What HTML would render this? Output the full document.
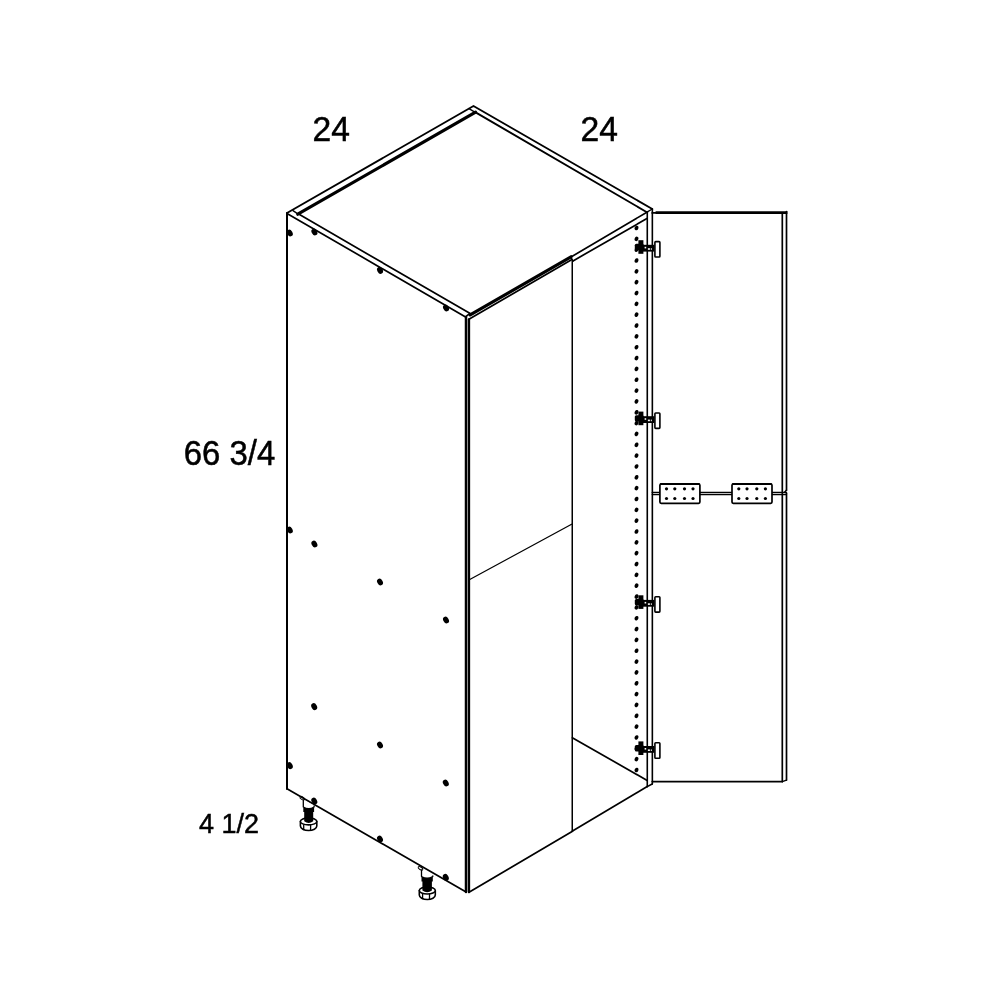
<!DOCTYPE html>
<html><head><meta charset="utf-8"><style>
html,body{margin:0;padding:0;background:#fff;}
body{width:1000px;height:1000px;position:relative;overflow:hidden;}
svg{position:absolute;left:0;top:0;will-change:transform;}
.t{position:absolute;font-family:"Liberation Sans",sans-serif;color:#000;white-space:nowrap;line-height:1;}
</style></head><body>
<svg width="1000" height="1000" viewBox="0 0 1000 1000">
<g stroke="#000" fill="none" stroke-linecap="round" stroke-linejoin="round">
<path d="M287,213 L473.5,106 L652.3,209" stroke-width="1.85" fill="none"/>
<line x1="297.8" y1="214.2" x2="475.6" y2="112.2" stroke-width="3.2"/>
<line x1="293" y1="210.6" x2="298.5" y2="214.4" stroke-width="1.4"/>
<line x1="469" y1="108.6" x2="475.6" y2="112.6" stroke-width="1.4"/>
<line x1="475.6" y1="112.4" x2="646.9" y2="212.2" stroke-width="1.85"/>
<line x1="646.9" y1="212.2" x2="652.3" y2="209" stroke-width="1.4"/>
<line x1="287" y1="213.4" x2="466.0" y2="317.2" stroke-width="1.7"/>
<line x1="299.5" y1="214.6" x2="470.2" y2="313.6" stroke-width="1.7"/>
<line x1="470.2" y1="314.9" x2="571" y2="256.8" stroke-width="3.2"/>
<line x1="571" y1="257.0" x2="646.9" y2="212.2" stroke-width="1.7"/>
<line x1="468.9" y1="319.2" x2="571.5" y2="259.7" stroke-width="1.7"/>
<line x1="573" y1="260.9" x2="646.9" y2="218.6" stroke-width="1.7"/>
<line x1="571" y1="257.3" x2="573" y2="261" stroke-width="1.5"/>
<line x1="287" y1="213" x2="287" y2="789" stroke-width="2.0"/>
<line x1="466.0" y1="317" x2="466.0" y2="892" stroke-width="2.5"/>
<line x1="468.95" y1="319.4" x2="468.95" y2="892" stroke-width="2.4"/>
<line x1="465.8" y1="316.6" x2="469.6" y2="313.6" stroke-width="1.8"/>
<line x1="572.25" y1="261" x2="572.25" y2="831" stroke-width="1.5"/>
<line x1="647.28" y1="212.2" x2="647.28" y2="786.6" stroke-width="1.6"/>
<line x1="652.35" y1="209" x2="652.35" y2="784" stroke-width="1.6"/>
<line x1="287" y1="788.7" x2="466.1" y2="892" stroke-width="1.7"/>
<line x1="469" y1="892.3" x2="572.5" y2="831.3" stroke-width="1.7"/>
<line x1="572.5" y1="831" x2="647.2" y2="786.6" stroke-width="1.7"/>
<line x1="647.2" y1="786.6" x2="652.2" y2="784" stroke-width="1.6"/>
<line x1="469.3" y1="579.8" x2="571.6" y2="524.2" stroke-width="1.25"/>
<line x1="572.3" y1="737.8" x2="647.2" y2="780.4" stroke-width="1.7"/>
<line x1="655.6" y1="212.7" x2="787.4" y2="212.7" stroke-width="2.8" stroke-linecap="butt"/>
<line x1="652.2" y1="212.9" x2="656" y2="212.9" stroke-width="1.8"/>
<line x1="782.3" y1="213.5" x2="782.3" y2="781.6" stroke-width="1.7"/>
<line x1="786.5" y1="211.5" x2="786.5" y2="490.2" stroke-width="1.7"/>
<line x1="786.4" y1="490.2" x2="784.6" y2="492.2" stroke-width="1.6"/>
<line x1="786.5" y1="493.2" x2="786.5" y2="780.1" stroke-width="1.7"/>
<line x1="652.2" y1="781.6" x2="782.3" y2="781.6" stroke-width="1.7"/>
<line x1="782.3" y1="781.6" x2="786.5" y2="780.1" stroke-width="1.4"/>
<line x1="652.2" y1="492.5" x2="786.5" y2="492.5" stroke-width="1.3"/>
<line x1="652.2" y1="494.6" x2="786.5" y2="494.6" stroke-width="1.3"/>
<rect x="659.9" y="484.0" width="40.0" height="19.3" rx="1.3" stroke-width="1.7" fill="#fff"/>
<line x1="660.9" y1="484.0" x2="698.9" y2="484.0" stroke-width="2.2"/>
<ellipse cx="666.5" cy="488.8" rx="1.6" ry="1.6" transform="rotate(0 666.5 488.8)" fill="#000" stroke="none"/>
<ellipse cx="666.5" cy="498.5" rx="1.6" ry="1.6" transform="rotate(0 666.5 498.5)" fill="#000" stroke="none"/>
<ellipse cx="674.8" cy="488.8" rx="1.6" ry="1.6" transform="rotate(0 674.8 488.8)" fill="#000" stroke="none"/>
<ellipse cx="674.8" cy="498.5" rx="1.6" ry="1.6" transform="rotate(0 674.8 498.5)" fill="#000" stroke="none"/>
<ellipse cx="684.5" cy="488.8" rx="1.6" ry="1.6" transform="rotate(0 684.5 488.8)" fill="#000" stroke="none"/>
<ellipse cx="684.5" cy="498.5" rx="1.6" ry="1.6" transform="rotate(0 684.5 498.5)" fill="#000" stroke="none"/>
<ellipse cx="693.0" cy="488.8" rx="1.6" ry="1.6" transform="rotate(0 693.0 488.8)" fill="#000" stroke="none"/>
<ellipse cx="693.0" cy="498.5" rx="1.6" ry="1.6" transform="rotate(0 693.0 498.5)" fill="#000" stroke="none"/>
<rect x="732.0" y="484.0" width="40.0" height="19.3" rx="1.3" stroke-width="1.7" fill="#fff"/>
<line x1="733.0" y1="484.0" x2="771.0" y2="484.0" stroke-width="2.2"/>
<ellipse cx="738.8" cy="488.8" rx="1.6" ry="1.6" transform="rotate(0 738.8 488.8)" fill="#000" stroke="none"/>
<ellipse cx="738.8" cy="498.5" rx="1.6" ry="1.6" transform="rotate(0 738.8 498.5)" fill="#000" stroke="none"/>
<ellipse cx="747.0" cy="488.8" rx="1.6" ry="1.6" transform="rotate(0 747.0 488.8)" fill="#000" stroke="none"/>
<ellipse cx="747.0" cy="498.5" rx="1.6" ry="1.6" transform="rotate(0 747.0 498.5)" fill="#000" stroke="none"/>
<ellipse cx="756.8" cy="488.8" rx="1.6" ry="1.6" transform="rotate(0 756.8 488.8)" fill="#000" stroke="none"/>
<ellipse cx="756.8" cy="498.5" rx="1.6" ry="1.6" transform="rotate(0 756.8 498.5)" fill="#000" stroke="none"/>
<ellipse cx="765.4" cy="488.8" rx="1.6" ry="1.6" transform="rotate(0 765.4 488.8)" fill="#000" stroke="none"/>
<ellipse cx="765.4" cy="498.5" rx="1.6" ry="1.6" transform="rotate(0 765.4 498.5)" fill="#000" stroke="none"/>
<ellipse cx="636.5" cy="228.0" rx="1.85" ry="2.35" transform="rotate(20 636.5 228.0)" fill="#000" stroke="none"/>
<ellipse cx="636.5" cy="238.84" rx="1.85" ry="2.35" transform="rotate(20 636.5 238.84)" fill="#000" stroke="none"/>
<ellipse cx="636.5" cy="249.68" rx="1.85" ry="2.35" transform="rotate(20 636.5 249.68)" fill="#000" stroke="none"/>
<ellipse cx="636.5" cy="260.52" rx="1.85" ry="2.35" transform="rotate(20 636.5 260.52)" fill="#000" stroke="none"/>
<ellipse cx="636.5" cy="271.36" rx="1.85" ry="2.35" transform="rotate(20 636.5 271.36)" fill="#000" stroke="none"/>
<ellipse cx="636.5" cy="282.2" rx="1.85" ry="2.35" transform="rotate(20 636.5 282.2)" fill="#000" stroke="none"/>
<ellipse cx="636.5" cy="293.04" rx="1.85" ry="2.35" transform="rotate(20 636.5 293.04)" fill="#000" stroke="none"/>
<ellipse cx="636.5" cy="303.88" rx="1.85" ry="2.35" transform="rotate(20 636.5 303.88)" fill="#000" stroke="none"/>
<ellipse cx="636.5" cy="314.72" rx="1.85" ry="2.35" transform="rotate(20 636.5 314.72)" fill="#000" stroke="none"/>
<ellipse cx="636.5" cy="325.56" rx="1.85" ry="2.35" transform="rotate(20 636.5 325.56)" fill="#000" stroke="none"/>
<ellipse cx="636.5" cy="336.4" rx="1.85" ry="2.35" transform="rotate(20 636.5 336.4)" fill="#000" stroke="none"/>
<ellipse cx="636.5" cy="347.24" rx="1.85" ry="2.35" transform="rotate(20 636.5 347.24)" fill="#000" stroke="none"/>
<ellipse cx="636.5" cy="358.08" rx="1.85" ry="2.35" transform="rotate(20 636.5 358.08)" fill="#000" stroke="none"/>
<ellipse cx="636.5" cy="368.92" rx="1.85" ry="2.35" transform="rotate(20 636.5 368.92)" fill="#000" stroke="none"/>
<ellipse cx="636.5" cy="379.76" rx="1.85" ry="2.35" transform="rotate(20 636.5 379.76)" fill="#000" stroke="none"/>
<ellipse cx="636.5" cy="390.6" rx="1.85" ry="2.35" transform="rotate(20 636.5 390.6)" fill="#000" stroke="none"/>
<ellipse cx="636.5" cy="401.44" rx="1.85" ry="2.35" transform="rotate(20 636.5 401.44)" fill="#000" stroke="none"/>
<ellipse cx="636.5" cy="412.28" rx="1.85" ry="2.35" transform="rotate(20 636.5 412.28)" fill="#000" stroke="none"/>
<ellipse cx="636.5" cy="423.12" rx="1.85" ry="2.35" transform="rotate(20 636.5 423.12)" fill="#000" stroke="none"/>
<ellipse cx="636.5" cy="433.96" rx="1.85" ry="2.35" transform="rotate(20 636.5 433.96)" fill="#000" stroke="none"/>
<ellipse cx="636.5" cy="444.8" rx="1.85" ry="2.35" transform="rotate(20 636.5 444.8)" fill="#000" stroke="none"/>
<ellipse cx="636.5" cy="455.64" rx="1.85" ry="2.35" transform="rotate(20 636.5 455.64)" fill="#000" stroke="none"/>
<ellipse cx="636.5" cy="466.48" rx="1.85" ry="2.35" transform="rotate(20 636.5 466.48)" fill="#000" stroke="none"/>
<ellipse cx="636.5" cy="477.32" rx="1.85" ry="2.35" transform="rotate(20 636.5 477.32)" fill="#000" stroke="none"/>
<ellipse cx="636.5" cy="488.16" rx="1.85" ry="2.35" transform="rotate(20 636.5 488.16)" fill="#000" stroke="none"/>
<ellipse cx="636.5" cy="499.0" rx="1.85" ry="2.35" transform="rotate(20 636.5 499.0)" fill="#000" stroke="none"/>
<ellipse cx="636.5" cy="509.84" rx="1.85" ry="2.35" transform="rotate(20 636.5 509.84)" fill="#000" stroke="none"/>
<ellipse cx="636.5" cy="520.68" rx="1.85" ry="2.35" transform="rotate(20 636.5 520.68)" fill="#000" stroke="none"/>
<ellipse cx="636.5" cy="531.52" rx="1.85" ry="2.35" transform="rotate(20 636.5 531.52)" fill="#000" stroke="none"/>
<ellipse cx="636.5" cy="542.36" rx="1.85" ry="2.35" transform="rotate(20 636.5 542.36)" fill="#000" stroke="none"/>
<ellipse cx="636.5" cy="553.2" rx="1.85" ry="2.35" transform="rotate(20 636.5 553.2)" fill="#000" stroke="none"/>
<ellipse cx="636.5" cy="564.04" rx="1.85" ry="2.35" transform="rotate(20 636.5 564.04)" fill="#000" stroke="none"/>
<ellipse cx="636.5" cy="574.88" rx="1.85" ry="2.35" transform="rotate(20 636.5 574.88)" fill="#000" stroke="none"/>
<ellipse cx="636.5" cy="585.72" rx="1.85" ry="2.35" transform="rotate(20 636.5 585.72)" fill="#000" stroke="none"/>
<ellipse cx="636.5" cy="596.56" rx="1.85" ry="2.35" transform="rotate(20 636.5 596.56)" fill="#000" stroke="none"/>
<ellipse cx="636.5" cy="607.4" rx="1.85" ry="2.35" transform="rotate(20 636.5 607.4)" fill="#000" stroke="none"/>
<ellipse cx="636.5" cy="618.24" rx="1.85" ry="2.35" transform="rotate(20 636.5 618.24)" fill="#000" stroke="none"/>
<ellipse cx="636.5" cy="629.08" rx="1.85" ry="2.35" transform="rotate(20 636.5 629.08)" fill="#000" stroke="none"/>
<ellipse cx="636.5" cy="639.92" rx="1.85" ry="2.35" transform="rotate(20 636.5 639.92)" fill="#000" stroke="none"/>
<ellipse cx="636.5" cy="650.76" rx="1.85" ry="2.35" transform="rotate(20 636.5 650.76)" fill="#000" stroke="none"/>
<ellipse cx="636.5" cy="661.6" rx="1.85" ry="2.35" transform="rotate(20 636.5 661.6)" fill="#000" stroke="none"/>
<ellipse cx="636.5" cy="672.44" rx="1.85" ry="2.35" transform="rotate(20 636.5 672.44)" fill="#000" stroke="none"/>
<ellipse cx="636.5" cy="683.28" rx="1.85" ry="2.35" transform="rotate(20 636.5 683.28)" fill="#000" stroke="none"/>
<ellipse cx="636.5" cy="694.12" rx="1.85" ry="2.35" transform="rotate(20 636.5 694.12)" fill="#000" stroke="none"/>
<ellipse cx="636.5" cy="704.96" rx="1.85" ry="2.35" transform="rotate(20 636.5 704.96)" fill="#000" stroke="none"/>
<ellipse cx="636.5" cy="715.8" rx="1.85" ry="2.35" transform="rotate(20 636.5 715.8)" fill="#000" stroke="none"/>
<ellipse cx="636.5" cy="726.64" rx="1.85" ry="2.35" transform="rotate(20 636.5 726.64)" fill="#000" stroke="none"/>
<ellipse cx="636.5" cy="737.48" rx="1.85" ry="2.35" transform="rotate(20 636.5 737.48)" fill="#000" stroke="none"/>
<ellipse cx="636.5" cy="748.32" rx="1.85" ry="2.35" transform="rotate(20 636.5 748.32)" fill="#000" stroke="none"/>
<ellipse cx="636.5" cy="759.16" rx="1.85" ry="2.35" transform="rotate(20 636.5 759.16)" fill="#000" stroke="none"/>
<ellipse cx="636.5" cy="770.0" rx="1.85" ry="2.35" transform="rotate(20 636.5 770.0)" fill="#000" stroke="none"/>
<rect x="638.4" y="240.2" width="5" height="13.6" fill="#000" stroke="none"/>
<rect x="634.8" y="243.8" width="9" height="6.4" rx="1.5" fill="#000" stroke="none"/>
<rect x="643" y="244.8" width="11.4" height="6.8" fill="#000" stroke="none"/>
<rect x="644.6" y="246.8" width="1.6" height="1.6" fill="#fff" stroke="none"/>
<rect x="647.9" y="248.20000000000002" width="2" height="1.6" fill="#fff" stroke="none"/>
<rect x="650.8" y="248.20000000000002" width="1" height="1.6" fill="#fff" stroke="none"/>
<rect x="654.9" y="241.6" width="5.0" height="15.4" rx="0.8" stroke-width="1.6" fill="#fff"/>
<rect x="638.4" y="411.6" width="5" height="13.6" fill="#000" stroke="none"/>
<rect x="634.8" y="415.20000000000005" width="9" height="6.4" rx="1.5" fill="#000" stroke="none"/>
<rect x="643" y="416.2" width="11.4" height="6.8" fill="#000" stroke="none"/>
<rect x="644.6" y="418.2" width="1.6" height="1.6" fill="#fff" stroke="none"/>
<rect x="647.9" y="419.6" width="2" height="1.6" fill="#fff" stroke="none"/>
<rect x="650.8" y="419.6" width="1" height="1.6" fill="#fff" stroke="none"/>
<rect x="654.9" y="413.0" width="5.0" height="15.4" rx="0.8" stroke-width="1.6" fill="#fff"/>
<rect x="638.4" y="595.3000000000001" width="5" height="13.6" fill="#000" stroke="none"/>
<rect x="634.8" y="598.9" width="9" height="6.4" rx="1.5" fill="#000" stroke="none"/>
<rect x="643" y="599.9" width="11.4" height="6.8" fill="#000" stroke="none"/>
<rect x="644.6" y="601.9" width="1.6" height="1.6" fill="#fff" stroke="none"/>
<rect x="647.9" y="603.3" width="2" height="1.6" fill="#fff" stroke="none"/>
<rect x="650.8" y="603.3" width="1" height="1.6" fill="#fff" stroke="none"/>
<rect x="654.9" y="596.7" width="5.0" height="15.4" rx="0.8" stroke-width="1.6" fill="#fff"/>
<rect x="638.4" y="741.4000000000001" width="5" height="13.6" fill="#000" stroke="none"/>
<rect x="634.8" y="745.0" width="9" height="6.4" rx="1.5" fill="#000" stroke="none"/>
<rect x="643" y="746.0" width="11.4" height="6.8" fill="#000" stroke="none"/>
<rect x="644.6" y="748.0" width="1.6" height="1.6" fill="#fff" stroke="none"/>
<rect x="647.9" y="749.4" width="2" height="1.6" fill="#fff" stroke="none"/>
<rect x="650.8" y="749.4" width="1" height="1.6" fill="#fff" stroke="none"/>
<rect x="654.9" y="742.8000000000001" width="5.0" height="15.4" rx="0.8" stroke-width="1.6" fill="#fff"/>
<ellipse cx="289.8" cy="233" rx="2.7" ry="3.6" transform="rotate(-30 289.8 233)" fill="#000" stroke="none"/>
<ellipse cx="314.4" cy="232" rx="2.7" ry="3.6" transform="rotate(-30 314.4 232)" fill="#000" stroke="none"/>
<ellipse cx="380" cy="270.4" rx="2.7" ry="3.6" transform="rotate(-30 380 270.4)" fill="#000" stroke="none"/>
<ellipse cx="446" cy="308" rx="2.7" ry="3.6" transform="rotate(-30 446 308)" fill="#000" stroke="none"/>
<ellipse cx="289.8" cy="530" rx="2.7" ry="3.6" transform="rotate(-30 289.8 530)" fill="#000" stroke="none"/>
<ellipse cx="314.4" cy="544" rx="2.7" ry="3.6" transform="rotate(-30 314.4 544)" fill="#000" stroke="none"/>
<ellipse cx="380" cy="582" rx="2.7" ry="3.6" transform="rotate(-30 380 582)" fill="#000" stroke="none"/>
<ellipse cx="446" cy="620" rx="2.7" ry="3.6" transform="rotate(-30 446 620)" fill="#000" stroke="none"/>
<ellipse cx="314.2" cy="706.6" rx="2.7" ry="3.6" transform="rotate(-30 314.2 706.6)" fill="#000" stroke="none"/>
<ellipse cx="380" cy="745" rx="2.7" ry="3.6" transform="rotate(-30 380 745)" fill="#000" stroke="none"/>
<ellipse cx="289.8" cy="765.6" rx="2.7" ry="3.6" transform="rotate(-30 289.8 765.6)" fill="#000" stroke="none"/>
<ellipse cx="445.8" cy="783" rx="2.7" ry="3.6" transform="rotate(-30 445.8 783)" fill="#000" stroke="none"/>
<ellipse cx="314.3" cy="801" rx="2.7" ry="3.6" transform="rotate(-30 314.3 801)" fill="#000" stroke="none"/>
<ellipse cx="380" cy="839" rx="2.7" ry="3.6" transform="rotate(-30 380 839)" fill="#000" stroke="none"/>
<ellipse cx="445.8" cy="877.3" rx="2.7" ry="3.6" transform="rotate(-30 445.8 877.3)" fill="#000" stroke="none"/>
<path d="M300.4,821.4 L300.4,826.0 A8.200000000000017,4.5 0 0 0 316.8,826.0 L316.8,821.4" fill="#fff" stroke-width="1.6"/>
<ellipse cx="308.6" cy="821.4" rx="8.200000000000017" ry="3.5" fill="#fff" stroke-width="1.6"/>
<line x1="303.7" y1="825.0" x2="303.7" y2="829.7" stroke-width="1.3"/>
<line x1="310.59999999999997" y1="825.0" x2="310.59999999999997" y2="829.9" stroke-width="1.3"/>
<path d="M303.3,807.5 L314.1,807.5 L314.1,812 L313.20000000000005,812 L313.20000000000005,821.3 Q308.70000000000005,824.8 304.2,821.3 L304.2,812 L303.3,812 Z" fill="#000" stroke="none"/>
<path d="M303.3,799.8 L303.3,807 Q308.70000000000005,810.5 314.1,807 L314.1,805.8" fill="#fff" stroke-width="1.3"/>
<ellipse cx="302.3" cy="798.1999999999999" rx="2.6" ry="1.3" transform="rotate(30 302.3 798.1999999999999)" fill="none" stroke-width="1"/>
<path d="M419.3,890.5 L419.3,895.0 A8.0,4.5 0 0 0 435.3,895.0 L435.3,890.5" fill="#fff" stroke-width="1.6"/>
<ellipse cx="427.3" cy="890.5" rx="8.0" ry="3.5" fill="#fff" stroke-width="1.6"/>
<line x1="422.6" y1="894.1" x2="422.6" y2="898.7" stroke-width="1.3"/>
<line x1="429.5" y1="894.1" x2="429.5" y2="898.9" stroke-width="1.3"/>
<path d="M421.5,877.0 L432.8,877.0 L432.8,881.5 L431.90000000000003,881.5 L431.90000000000003,890.5 Q427.15,894.0 422.4,890.5 L422.4,881.5 L421.5,881.5 Z" fill="#000" stroke="none"/>
<path d="M421.5,870 L421.5,876.5 Q427.15,880.0 432.8,876.5 L432.8,876" fill="#fff" stroke-width="1.3"/>
<ellipse cx="420.5" cy="868.4" rx="2.6" ry="1.3" transform="rotate(30 420.5 868.4)" fill="none" stroke-width="1"/>
</g>
<g font-family="Liberation Sans, sans-serif" fill="#000" stroke="#000" stroke-width="0.5">
<text transform="translate(312.6,140.75) scale(0.96,1)" font-size="35">24</text>
<text transform="translate(580.45,140.75) scale(0.96,1)" font-size="35">24</text>
<text transform="translate(183.7,465.2) scale(0.957,1)" font-size="34.4">66 3/4</text>
<text transform="translate(199.0,832.65) scale(0.963,1)" font-size="28">4 1/2</text>
</g>
</svg>
</body></html>
